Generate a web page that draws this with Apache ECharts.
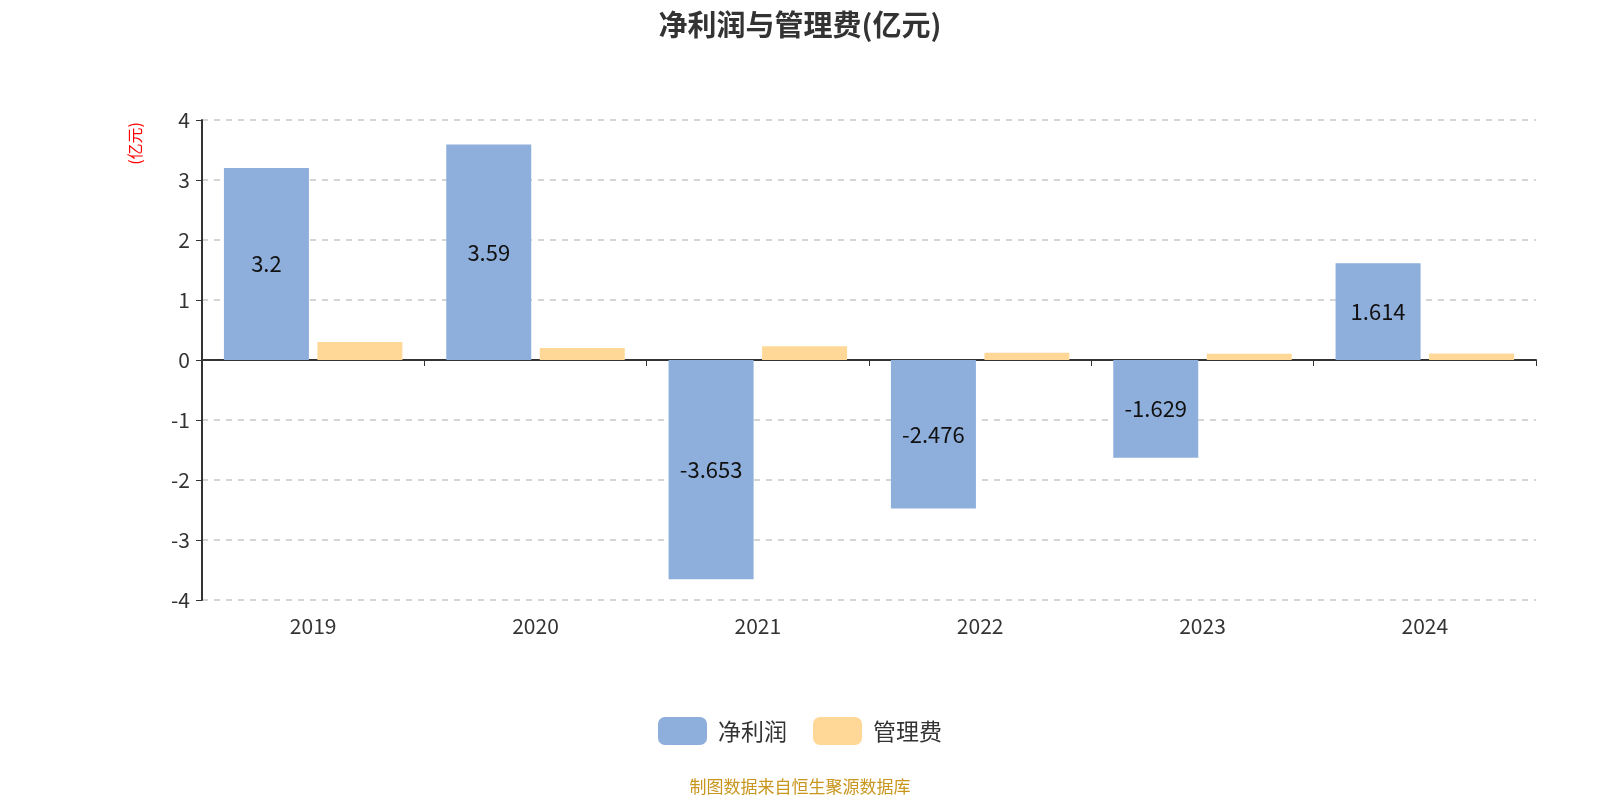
<!DOCTYPE html>
<html>
<head>
<meta charset="utf-8">
<script src="https://cdn.jsdelivr.net/npm/echarts@6/dist/echarts.min.js"></script>
<style>
  html, body { margin: 0; padding: 0; background: #fff; }
  #main { width: 1600px; height: 800px; }
</style>
</head>
<body>
<div id="main"></div>
<script>
// 数据
const years = ['2019', '2020', '2021', '2022', '2023', '2024'];
const netProfit = [3.2, 3.59, -3.653, -2.476, -1.629, 1.614];
const mgmtFee = [0.3, 0.2, 0.23, 0.12, 0.105, 0.11];
const yTicks = { min: -4, max: 4, interval: 1 };

const chart = echarts.init(document.getElementById('main'));
const font = '"Noto Sans CJK SC", "Noto Sans", sans-serif';

const option = {
    backgroundColor: '#fff',
    textStyle: { fontFamily: font },
    title: {
        text: '净利润与管理费(亿元)',
        left: 'center',
        top: 5,
        textStyle: { fontSize: 29, fontWeight: 'bold', color: '#333', fontFamily: font }
    },
    legend: {
        bottom: 50,
        itemWidth: 49,
        itemHeight: 28,
        itemGap: 26,
        textStyle: { fontSize: 23, color: '#333', fontFamily: font, padding: [0, 0, 0, 6] },
        data: ['净利润', '管理费']
    },
    grid: { left: 202, right: 64, top: 120, bottom: 200 },
    graphic: [
        {
            type: 'text',
            left: 127,
            top: 122,
            rotation: Math.PI / 2,
            style: { text: '(亿元)', fill: '#ff0000', fontSize: 16, fontFamily: font }
        },
        {
            type: 'text',
            left: 'center',
            top: 778,
            style: { text: '制图数据来自恒生聚源数据库', fill: '#c8961e', fontSize: 17, fontFamily: font }
        }
    ],
    xAxis: {
        type: 'category',
        data: years,
        axisLine: { onZero: true, lineStyle: { color: '#333', width: 2 } },
        axisTick: { show: true, length: 6, lineStyle: { color: '#333' } },
        axisLabel: { position: 'bottom', fontSize: 21, color: '#333', margin: 16, fontFamily: font },
        position: 'bottom'
    },
    yAxis: {
        type: 'value',
        min: yTicks.min,
        max: yTicks.max,
        interval: yTicks.interval,
        axisLine: { show: true, lineStyle: { color: '#333', width: 2 } },
        axisTick: { show: true, length: 6, lineStyle: { color: '#333' } },
        axisLabel: { fontSize: 21, color: '#333', margin: 12, fontFamily: font },
        splitLine: { lineStyle: { type: [6, 6], color: '#c8c8c8', width: 1.5 } }
    },
    series: [
        {
            name: '净利润',
            type: 'bar',
            data: netProfit,
            barWidth: 85,
            barGap: '10%',
            itemStyle: { color: '#8eaedb' },
            label: { show: true, position: 'inside', fontSize: 22, color: '#111', fontFamily: font }
        },
        {
            name: '管理费',
            type: 'bar',
            data: mgmtFee,
            barWidth: 85,
            itemStyle: { color: '#ffd898' }
        }
    ]
};

chart.setOption(option);
</script>
</body>
</html>
